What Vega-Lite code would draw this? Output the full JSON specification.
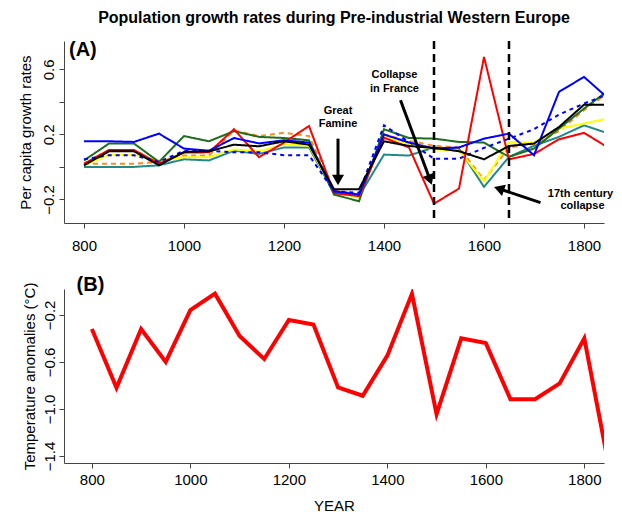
{
  "$schema": "https://vega.github.io/schema/vega-lite/v6.json",
  "background": "white",
  "padding": {"left": 18, "top": 9, "right": 12, "bottom": 0},
  "spacing": 22,
  "config": {
    "view": {"stroke": null},
    "font": "Liberation Sans",
    "axis": {
      "grid": false,
      "domainColor": "#444",
      "tickColor": "#444",
      "labelColor": "#000",
      "titleColor": "#000",
      "labelFontSize": 15,
      "titleFontSize": 15,
      "titleFontWeight": "normal",
      "tickSize": 5,
      "labelFont": "Liberation Sans",
      "titleFont": "Liberation Sans"
    }
  },
  "datasets": {
    "pop": [
      {"year": 800, "teal": 0.0, "orange": 0.02, "yellow": 0.01, "green": 0.04, "red": 0.02, "blue": 0.158, "bluedot": 0.047, "black": 0.01},
      {"year": 850, "teal": 0.0, "orange": 0.02, "yellow": 0.075, "green": 0.144, "red": 0.105, "blue": 0.158, "bluedot": 0.072, "black": 0.096},
      {"year": 900, "teal": 0.0, "orange": 0.02, "yellow": 0.075, "green": 0.144, "red": 0.105, "blue": 0.154, "bluedot": 0.072, "black": 0.096},
      {"year": 950, "teal": 0.01, "orange": 0.03, "yellow": 0.04, "green": 0.031, "red": 0.02, "blue": 0.205, "bluedot": 0.031, "black": 0.01},
      {"year": 1000, "teal": 0.047, "orange": 0.07, "yellow": 0.06, "green": 0.19, "red": 0.088, "blue": 0.113, "bluedot": 0.1, "black": 0.092},
      {"year": 1050, "teal": 0.04, "orange": 0.07, "yellow": 0.06, "green": 0.158, "red": 0.09, "blue": 0.1, "bluedot": 0.1, "black": 0.096},
      {"year": 1100, "teal": 0.1, "orange": 0.225, "yellow": 0.108, "green": 0.22, "red": 0.232, "blue": 0.178, "bluedot": 0.09, "black": 0.137},
      {"year": 1150, "teal": 0.08, "orange": 0.19, "yellow": 0.095, "green": 0.185, "red": 0.06, "blue": 0.145, "bluedot": 0.09, "black": 0.127},
      {"year": 1200, "teal": 0.12, "orange": 0.21, "yellow": 0.14, "green": 0.178, "red": 0.15, "blue": 0.164, "bluedot": 0.072, "black": 0.158},
      {"year": 1250, "teal": 0.12, "orange": 0.19, "yellow": 0.13, "green": 0.164, "red": 0.252, "blue": 0.15, "bluedot": 0.072, "black": 0.137},
      {"year": 1300, "teal": -0.16, "orange": -0.14, "yellow": -0.15, "green": -0.17, "red": -0.16, "blue": -0.15, "bluedot": -0.15, "black": -0.137},
      {"year": 1350, "teal": -0.18, "orange": -0.17, "yellow": -0.19, "green": -0.211, "red": -0.18, "blue": -0.17, "bluedot": -0.16, "black": -0.137},
      {"year": 1400, "teal": 0.076, "orange": 0.2, "yellow": 0.19, "green": 0.232, "red": 0.18, "blue": 0.2, "bluedot": 0.256, "black": 0.158},
      {"year": 1450, "teal": 0.07, "orange": 0.16, "yellow": 0.14, "green": 0.178, "red": 0.12, "blue": 0.15, "bluedot": 0.154, "black": 0.129},
      {"year": 1500, "teal": 0.12, "orange": 0.13, "yellow": 0.108, "green": 0.174, "red": -0.226, "blue": 0.113, "bluedot": 0.051, "black": 0.117},
      {"year": 1550, "teal": 0.113, "orange": 0.12, "yellow": 0.1, "green": 0.154, "red": -0.133, "blue": 0.12, "bluedot": 0.051, "black": 0.097},
      {"year": 1600, "teal": -0.123, "orange": -0.08, "yellow": -0.088, "green": 0.15, "red": 0.677, "blue": 0.174, "bluedot": 0.117, "black": 0.047},
      {"year": 1650, "teal": 0.062, "orange": 0.12, "yellow": 0.154, "green": 0.062, "red": 0.047, "blue": 0.205, "bluedot": 0.174, "black": 0.129},
      {"year": 1700, "teal": 0.13, "orange": 0.14, "yellow": 0.15, "green": 0.113, "red": 0.08, "blue": 0.072, "bluedot": 0.232, "black": 0.144},
      {"year": 1750, "teal": 0.185, "orange": 0.22, "yellow": 0.236, "green": 0.236, "red": 0.17, "blue": 0.462, "bluedot": 0.322, "black": 0.246},
      {"year": 1800, "teal": 0.256, "orange": 0.35, "yellow": 0.267, "green": 0.359, "red": 0.21, "blue": 0.554, "bluedot": 0.39, "black": 0.383},
      {"year": 1850, "teal": 0.205, "orange": 0.46, "yellow": 0.3, "green": 0.474, "red": 0.116, "blue": 0.418, "bluedot": 0.45, "black": 0.383}
    ],
    "temp": [
      {"year": 800, "anomaly": -0.32},
      {"year": 850, "anomaly": -0.82},
      {"year": 900, "anomaly": -0.32},
      {"year": 950, "anomaly": -0.6},
      {"year": 1000, "anomaly": -0.16},
      {"year": 1050, "anomaly": -0.02},
      {"year": 1100, "anomaly": -0.38},
      {"year": 1150, "anomaly": -0.575},
      {"year": 1200, "anomaly": -0.243},
      {"year": 1250, "anomaly": -0.283},
      {"year": 1300, "anomaly": -0.817},
      {"year": 1350, "anomaly": -0.888},
      {"year": 1400, "anomaly": -0.547},
      {"year": 1450, "anomaly": -0.021},
      {"year": 1500, "anomaly": -1.045},
      {"year": 1550, "anomaly": -0.4},
      {"year": 1600, "anomaly": -0.44},
      {"year": 1650, "anomaly": -0.917},
      {"year": 1700, "anomaly": -0.917},
      {"year": 1750, "anomaly": -0.783},
      {"year": 1800, "anomaly": -0.4},
      {"year": 1850, "anomaly": -1.49}
    ],
    "breaks": [{"year": 1500}, {"year": 1650}],
    "arrows": [
      {"id": "famine", "year": 1308, "value": 0.174, "year2": 1308, "value2": -0.08},
      {"id": "france", "year": 1433, "value": 0.41, "year2": 1492, "value2": -0.079},
      {"id": "c17", "year": 1713, "value": -0.22, "year2": 1630, "value2": -0.134}
    ],
    "notes": [
      {"text": "Great", "year": 1308, "value": 0.345},
      {"text": "Famine", "year": 1308, "value": 0.265},
      {"text": "Collapse", "year": 1421, "value": 0.564},
      {"text": "in France", "year": 1421, "value": 0.482},
      {"text": "17th century", "year": 1793, "value": -0.164},
      {"text": "collapse", "year": 1797, "value": -0.242}
    ],
    "panelA": [{"text": "(A)", "year": 770, "value": 0.72}],
    "panelB": [{"text": "(B)", "year": 769, "value": 0.05}]
  },
  "vconcat": [
    {
      "width": 540,
      "height": 182,
      "title": {
        "text": "Population growth rates during Pre-industrial Western Europe",
        "fontSize": 16,
        "fontWeight": "bold",
        "font": "Liberation Sans",
        "anchor": "middle",
        "frame": "group",
        "offset": 14,
        "color": "#000"
      },
      "layer": [
        {
          "mark": {"type": "rule", "color": "#9a9a9a", "strokeWidth": 1.5},
          "encoding": {
            "y": {"datum": 0, "type": "quantitative", "title": "Per capita growth rates"}
          }
        },
        {
          "data": {"name": "pop"},
          "transform": [
            {"fold": ["teal", "orange", "yellow", "green", "red", "blue", "bluedot", "black"], "as": ["series", "rate"]}
          ],
          "mark": {"type": "line", "clip": true},
          "encoding": {
            "x": {
              "field": "year", "type": "quantitative", "title": null,
              "scale": {"domain": [760, 1840], "nice": false, "zero": false},
              "axis": {"values": [800, 1000, 1200, 1400, 1600, 1800], "format": "d", "labelPadding": 10, "labelFlush": false}
            },
            "y": {
              "field": "rate", "type": "quantitative", "title": "Per capita growth rates",
              "scale": {"domain": [-0.345, 0.775], "nice": false, "zero": false},
              "axis": {
                "values": [-0.2, 0, 0.2, 0.4, 0.6],
                "labelExpr": "datum.value == 0 || datum.value == 0.4 ? '' : format(datum.value, '.1f')",
                "labelAngle": -90,
                "labelPadding": 3,
                "titlePadding": 8,
                "labelFlush": false
              }
            },
            "color": {
              "field": "series", "type": "nominal", "legend": null,
              "scale": {
                "domain": ["teal", "orange", "yellow", "green", "red", "blue", "bluedot", "black"],
                "range": ["#22898a", "#ff8a1e", "#ffff00", "#1c6e1c", "#ff0000", "#0000ff", "#0000ff", "#000000"]
              }
            },
            "strokeDash": {
              "field": "series", "type": "nominal", "legend": null,
              "scale": {
                "domain": ["teal", "orange", "yellow", "green", "red", "blue", "bluedot", "black"],
                "range": [[1, 0], [5, 4], [1, 0], [1, 0], [1, 0], [1, 0], [4, 4], [1, 0]]
              }
            },
            "strokeWidth": {
              "field": "series", "type": "nominal", "legend": null,
              "scale": {
                "domain": ["teal", "orange", "yellow", "green", "red", "blue", "bluedot", "black"],
                "range": [2, 2, 2, 2, 2, 2, 3, 4.5]
              }
            }
          }
        },
        {
          "data": {"name": "breaks"},
          "mark": {"type": "rule", "color": "#000", "strokeWidth": 2.5, "strokeDash": [8, 5]},
          "encoding": {
            "x": {"field": "year", "type": "quantitative", "title": null}
          }
        },
        {
          "data": {"name": "arrows"},
          "mark": {"type": "rule", "color": "#000", "strokeWidth": 3},
          "encoding": {
            "x": {"field": "year", "type": "quantitative", "title": null},
            "y": {"field": "value", "type": "quantitative", "title": "Per capita growth rates"},
            "x2": {"field": "year2"},
            "y2": {"field": "value2"}
          }
        },
        {
          "data": {"name": "arrows"},
          "transform": [{"filter": "datum.id == 'famine'"}],
          "mark": {"type": "point", "shape": "triangle-down", "filled": true, "color": "#000", "size": 144, "opacity": 1},
          "encoding": {
            "x": {"field": "year2", "type": "quantitative", "title": null},
            "y": {"field": "value2", "type": "quantitative", "title": "Per capita growth rates"}
          }
        },
        {
          "data": {"name": "arrows"},
          "transform": [{"filter": "datum.id == 'france'"}],
          "mark": {"type": "point", "shape": "triangle-down", "angle": 340, "filled": true, "color": "#000", "size": 144, "opacity": 1},
          "encoding": {
            "x": {"field": "year2", "type": "quantitative", "title": null},
            "y": {"field": "value2", "type": "quantitative", "title": "Per capita growth rates"}
          }
        },
        {
          "data": {"name": "arrows"},
          "transform": [{"filter": "datum.id == 'c17'"}],
          "mark": {"type": "point", "shape": "triangle-left", "angle": 18.6, "filled": true, "color": "#000", "size": 144, "opacity": 1},
          "encoding": {
            "x": {"field": "year2", "type": "quantitative", "title": null},
            "y": {"field": "value2", "type": "quantitative", "title": "Per capita growth rates"}
          }
        },
        {
          "data": {"name": "notes"},
          "mark": {"type": "text", "fontWeight": "bold", "fontSize": 11, "color": "#000", "align": "center", "baseline": "middle", "font": "Liberation Sans"},
          "encoding": {
            "x": {"field": "year", "type": "quantitative", "title": null},
            "y": {"field": "value", "type": "quantitative", "title": "Per capita growth rates"},
            "text": {"field": "text"}
          }
        },
        {
          "data": {"name": "panelA"},
          "mark": {"type": "text", "fontWeight": "bold", "fontSize": 20, "color": "#000", "align": "left", "baseline": "middle", "font": "Liberation Sans"},
          "encoding": {
            "x": {"field": "year", "type": "quantitative", "title": null},
            "y": {"field": "value", "type": "quantitative", "title": "Per capita growth rates"},
            "text": {"field": "text"}
          }
        }
      ]
    },
    {
      "width": 540,
      "height": 174,
      "layer": [
        {
          "data": {"name": "temp"},
          "mark": {"type": "line", "color": "#ff0000", "strokeWidth": 4, "clip": true},
          "encoding": {
            "x": {
              "field": "year", "type": "quantitative", "title": "YEAR",
              "scale": {"domain": [743.4, 1840], "nice": false, "zero": false},
              "axis": {"values": [800, 1000, 1200, 1400, 1600, 1800], "format": "d", "labelPadding": 4, "titlePadding": 11, "labelFlush": false}
            },
            "y": {
              "field": "anomaly", "type": "quantitative", "title": "Temperature anomalies (°C)",
              "scale": {"domain": [-1.46, 0.02], "nice": false, "zero": false},
              "axis": {
                "values": [0, -0.2, -0.4, -0.6, -0.8, -1, -1.2, -1.4],
                "labelExpr": "datum.value == -0.2 || datum.value == -0.6 || datum.value == -1 || datum.value == -1.4 ? format(datum.value, '.1f') : ''",
                "labelAngle": -90,
                "labelPadding": 2,
                "titlePadding": 5,
                "labelFlush": false
              }
            }
          }
        },
        {
          "data": {"name": "panelB"},
          "mark": {"type": "text", "fontWeight": "bold", "fontSize": 20, "color": "#000", "align": "left", "baseline": "middle", "font": "Liberation Sans"},
          "encoding": {
            "x": {"field": "year", "type": "quantitative", "title": "YEAR"},
            "y": {"field": "value", "type": "quantitative", "title": "Temperature anomalies (°C)"},
            "text": {"field": "text"}
          }
        }
      ]
    }
  ]
}
